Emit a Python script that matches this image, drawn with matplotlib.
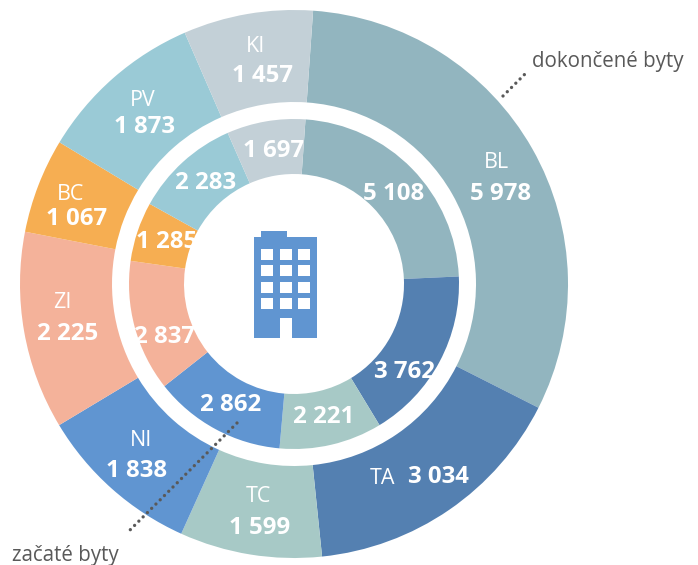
import matplotlib
matplotlib.use('Agg')
import matplotlib.pyplot as plt
from matplotlib.patches import Rectangle

plt.rcParams['font.family'] = ['Open Sans', 'DejaVu Sans']

regions = ['BL', 'TA', 'TC', 'NI', 'ZI', 'BC', 'PV', 'KI']
completed = [5978, 3034, 1599, 1838, 2225, 1067, 1873, 1457]
started = [5108, 3762, 2221, 2862, 2837, 1285, 2283, 1697]
colors = ['#92B5BF', '#5480B1', '#A7C9C6', '#6095D1', '#F4B29A', '#F6AE52', '#9ACAD6', '#C3D0D7']

# label centres in picture pixels, y counted from the top
outer_name_pos = [(496, 162), (382, 478), (258, 496), (141, 441), (62, 302), (71, 195), (143, 100), (255, 46)]
outer_num_pos = [(501, 194), (438, 477), (260, 528), (137, 471), (68, 334), (77, 219), (144, 127), (262, 76)]
inner_num_pos = [(394, 194), (405, 372), (324, 417), (231, 405), (165, 337), (167, 242), (206, 183), (274, 151)]

H = 565
cx, cy = 294, H - 284


def fmt(v):
    return f'{v:,}'.replace(',', ' ')


fig = plt.figure(figsize=(6.98, 5.65), dpi=100)
ax = fig.add_axes([0, 0, 1, 1])
ax.set_xlim(0, 698)
ax.set_ylim(0, H)
ax.set_aspect('equal')
ax.axis('off')

ax.pie(completed, colors=colors, center=(cx, cy), radius=274, startangle=86, counterclock=False,
       frame=True, wedgeprops=dict(width=92))
ax.pie(started, colors=colors, center=(cx, cy), radius=165, startangle=86, counterclock=False,
       frame=True, wedgeprops=dict(width=55))
ax.set_xlim(0, 698)
ax.set_ylim(0, H)
ax.axis('off')

for i in range(len(regions)):
    x, y = outer_name_pos[i]
    ax.text(x, H - y, regions[i], color='white', fontsize=15.5, ha='center', va='center')
    x, y = outer_num_pos[i]
    ax.text(x, H - y, fmt(completed[i]), color='white', fontsize=17.3, fontweight='bold', ha='center', va='center')
    x, y = inner_num_pos[i]
    ax.text(x, H - y, fmt(started[i]), color='white', fontsize=17.3, fontweight='bold', ha='center', va='center')

# building icon
blue = '#6095D1'
ax.add_patch(Rectangle((254, H - 338), 63, 101, color=blue, lw=0))
ax.add_patch(Rectangle((261, H - 237), 26, 6, color=blue, lw=0))
for wx in [261, 280, 298]:
    for wy in [249, 265, 281.5, 298]:
        ax.add_patch(Rectangle((wx, H - wy - 11), 12, 11, color='white', lw=0))
ax.add_patch(Rectangle((280, H - 338), 12, 20, color='white', lw=0))

# leader lines
ax.plot([503, 526], [H - 96, H - 73], color='#595959', lw=2.4, ls=(0, (0.01, 1.8)), dash_capstyle='round')
ax.plot([237, 127], [H - 423, H - 533], color='#595959', lw=2.4, ls=(0, (0.01, 1.8)), dash_capstyle='round')

ax.text(532, H - 61, 'dokončené byty', color='#595959', fontsize=14.8, ha='left', va='center')
ax.text(12, H - 555, 'začaté byty', color='#595959', fontsize=14.8, ha='left', va='center')

fig.savefig('out.png', dpi=100)
